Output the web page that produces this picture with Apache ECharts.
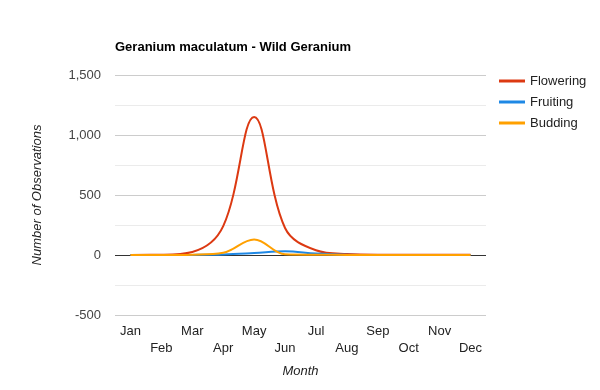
<!DOCTYPE html>
<html>
<head>
<meta charset="utf-8">
<script src="https://cdn.jsdelivr.net/npm/echarts@6/dist/echarts.min.js"></script>
<style>html,body{margin:0;padding:0;background:#fff}#c{width:600px;height:390px}</style>
</head>
<body>
<div id="c"></div>
<script>
const months = ['Jan','Feb','Mar','Apr','May','Jun','Jul','Aug','Sep','Oct','Nov','Dec'];
const flowering = [1, 2, 25, 240, 1150, 225, 40, 8, 3, 3, 2, 2];
const fruiting = [0, 0, 1, 5, 17, 31, 12, 3, 1, 1, 0, 0];
const budding = [0, 0, 3, 19, 130, 6, 2, 1, 0, 0, 0, 0];
const seriesNames = ['Flowering', 'Fruiting', 'Budding'];
const yTicks = [-500, 0, 500, 1000, 1500];

const font = 'Liberation Sans, Arial, sans-serif';
const chart = echarts.init(document.getElementById('c'), null, {renderer: 'canvas'});
const mk = (name, data, color) => ({
  name, type: 'line', data, smooth: 0.38, symbol: 'none',
  lineStyle: {color, width: 2}, itemStyle: {color}
});
chart.setOption({
  animation: false,
  textStyle: {fontFamily: font},
  title: {
    text: 'Geranium maculatum - Wild Geranium',
    left: 115, top: 41, padding: 0,
    textStyle: {fontFamily: font, fontSize: 13, fontWeight: 'bold', color: '#000'}
  },
  legend: {
    orient: 'vertical', left: 499, top: 73, padding: 0,
    icon: 'rect', itemWidth: 26, itemHeight: 3, itemGap: 5,
    textStyle: {fontFamily: font, fontSize: 13, color: '#222', lineHeight: 16},
    data: seriesNames
  },
  grid: {left: 115, right: 114, top: 75, bottom: 75},
  xAxis: {
    type: 'category', data: months, boundaryGap: true,
    axisLine: {show: false, onZero: false}, axisTick: {show: false},
    axisLabel: {
      interval: 0, margin: 8, fontFamily: font, fontSize: 13, color: '#222', lineHeight: 17,
      formatter: (v, i) => (i % 2 ? '\n' + v : v)
    },
    name: 'Month', nameLocation: 'middle', nameGap: 50,
    nameTextStyle: {fontFamily: font, fontSize: 13, fontStyle: 'italic', color: '#222'}
  },
  yAxis: {
    type: 'value', min: -500, max: 1500, interval: 250,
    axisLine: {show: false}, axisTick: {show: false},
    axisLabel: {
      margin: 14, fontFamily: font, fontSize: 13, color: '#444',
      formatter: v => (yTicks.includes(v) ? v.toLocaleString('en-US') : '')
    },
    splitLine: {lineStyle: {width: 1, color: ['#cccccc','#ebebeb','#333333','#ebebeb','#cccccc','#ebebeb','#cccccc','#ebebeb','#cccccc']}},
    name: 'Number of Observations', nameLocation: 'middle', nameGap: 71,
    nameTextStyle: {fontFamily: font, fontSize: 13, fontStyle: 'italic', color: '#222'}
  },
  series: [
    mk(seriesNames[0], flowering, '#dc3912'),
    mk(seriesNames[1], fruiting, '#1e88e5'),
    mk(seriesNames[2], budding, '#ffa000')
  ]
});
</script>
</body>
</html>
